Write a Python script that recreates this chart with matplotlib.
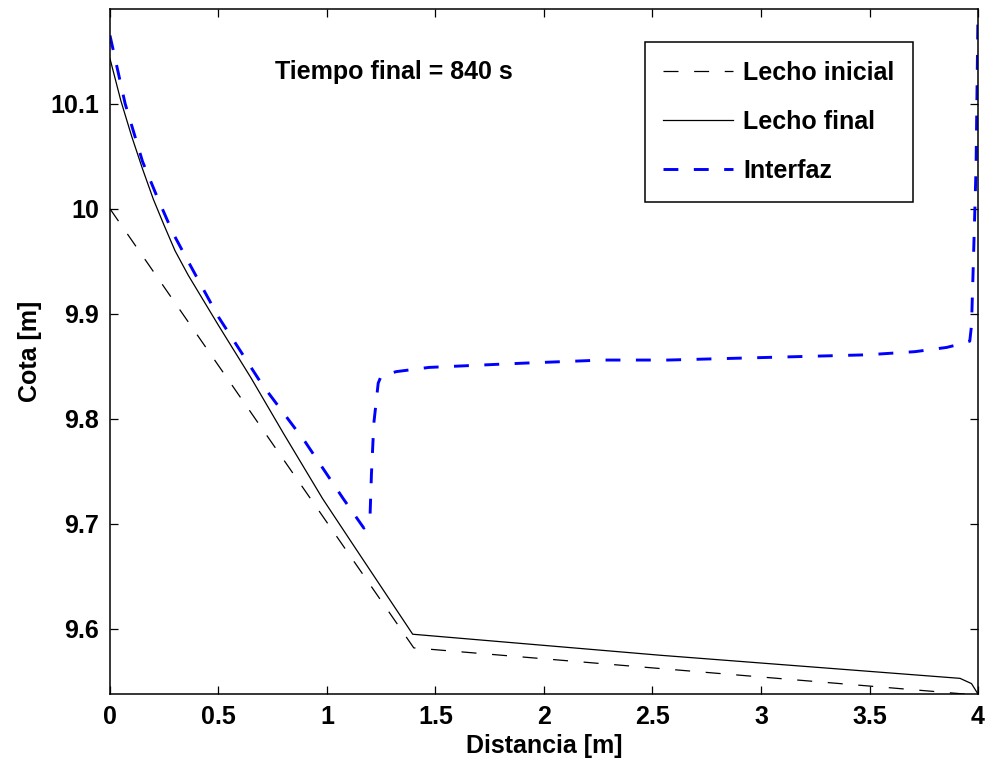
import matplotlib
matplotlib.use("Agg")
import matplotlib.pyplot as plt
import matplotlib.ticker as ticker

plt.rcParams["font.family"] = ["Liberation Sans", "DejaVu Sans"]
plt.rcParams["font.weight"] = "bold"
plt.rcParams["font.size"] = 18

# lecho inicial (dashed black)
x_ini = [0.0, 1.40, 4.0]
y_ini = [10.000, 9.582, 9.537]

# lecho final (solid black)
x_fin = [0.0, 0.05, 0.10, 0.15, 0.20, 0.25, 0.30, 0.36, 0.50, 0.65, 0.80,
         0.98, 1.134, 1.25, 1.395, 2.535, 3.917, 3.97, 4.0]
y_fin = [10.143, 10.103, 10.069, 10.038, 10.009, 9.984, 9.960, 9.937, 9.889,
         9.839, 9.786, 9.724, 9.676, 9.640, 9.595, 9.575, 9.553, 9.548, 9.538]

# interfaz (dashed blue)
x_int = [0.0, 0.07, 0.15, 0.22, 0.29, 0.36, 0.50, 0.70, 0.90, 1.075, 1.17,
         1.198, 1.205, 1.216, 1.236, 1.25, 1.32, 1.47, 1.90, 2.27, 2.57,
         3.12, 3.49, 3.71, 3.855, 3.894, 3.962, 3.97, 3.978, 3.991, 4.0]
y_int = [10.165, 10.100, 10.045, 10.010, 9.977, 9.950, 9.897, 9.833, 9.778,
         9.724, 9.696, 9.705, 9.748, 9.796, 9.834, 9.841, 9.845, 9.849, 9.853,
         9.856, 9.856, 9.859, 9.861, 9.864, 9.868, 9.870, 9.874, 9.889, 9.945,
         10.04, 10.19]

fig = plt.figure(figsize=(9.88, 7.66), dpi=100)
ax = fig.add_axes([0.1113, 0.0944, 0.8786, 0.8936])

ax.plot(x_ini, y_ini, color="black", lw=0.9, dashes=(12, 12.5), label="Lecho inicial")
ax.plot(x_fin, y_fin, color="black", lw=0.9, label="Lecho final")
ax.plot(x_int, y_int, color="#0000ff", lw=2.1, dashes=(5.1, 5.3), label="Interfaz")

ax.set_xlim(0, 4)
ax.set_ylim(9.5384, 10.19)
ax.set_xticks([0, 0.5, 1, 1.5, 2, 2.5, 3, 3.5, 4])
ax.set_yticks([9.6, 9.7, 9.8, 9.9, 10.0, 10.1])
fmt = ticker.FuncFormatter(lambda v, _: f"{v:g}")
ax.xaxis.set_major_formatter(fmt)
ax.yaxis.set_major_formatter(fmt)
ax.tick_params(direction="in", length=6, width=0.9, top=True, right=True, pad=8)
for s in ax.spines.values():
    s.set_linewidth(1.1)

ax.set_xlabel("Distancia [m]", fontweight="bold", labelpad=4)
ax.set_ylabel("Cota [m]", fontweight="bold", labelpad=6)

ax.text(0.76, 10.13, "Tiempo final = 840 s", fontweight="bold", va="center", ha="left")

leg = ax.legend(loc="upper right", bbox_to_anchor=(0.9255, 0.952), borderaxespad=0,
                fancybox=False, edgecolor="black", framealpha=1,
                handlelength=2.8, handleheight=0.7, handletextpad=0.4,
                labelspacing=1.0, borderpad=0.75)
leg.get_frame().set_linewidth(1.1)

fig.savefig("out.png", dpi=100)
